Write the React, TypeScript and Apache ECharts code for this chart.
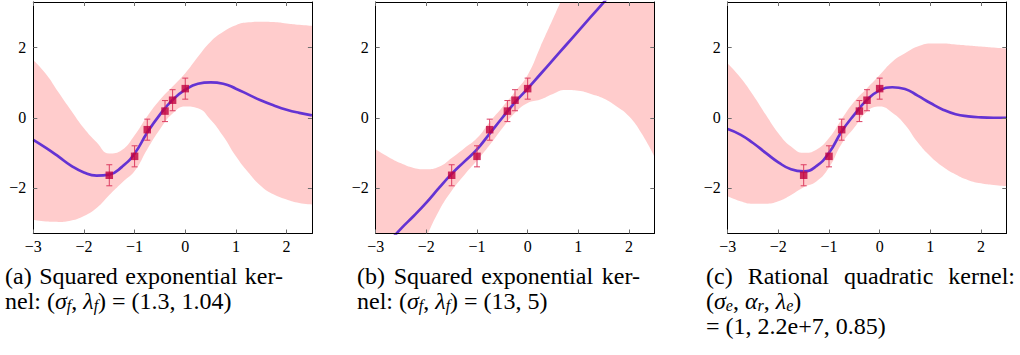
import React, { useEffect, useRef } from "react";
import * as echarts from "echarts";

// sampling grid of the curves (x)
const xGrid = [-3, -2.75, -2.5, -2.25, -2, -1.75, -1.5, -1.25, -1, -0.75, -0.5, -0.25, 0, 0.25, 0.5, 0.75, 1, 1.25, 1.5, 1.75, 2, 2.25, 2.5];

// (a) squared exponential kernel (1.3, 1.04)
const meanA = [-0.63, -0.86, -1.11, -1.37, -1.56, -1.65, -1.62, -1.4, -1.02, -0.42, 0.09, 0.51, 0.8, 0.97, 1.01, 0.97, 0.83, 0.66, 0.49, 0.35, 0.23, 0.14, 0.07];
const upperA = [1.65, 1.25, 0.72, 0.2, -0.3, -0.7, -1.02, -0.92, -0.5, 0.04, 0.51, 0.89, 1.27, 1.74, 2.17, 2.45, 2.64, 2.72, 2.74, 2.73, 2.69, 2.65, 2.62];
const lowerA = [-2.91, -2.96, -2.97, -2.93, -2.8, -2.57, -2.2, -1.85, -1.52, -0.9, -0.33, 0.12, 0.32, 0.27, -0.06, -0.53, -1.1, -1.57, -1.95, -2.19, -2.33, -2.43, -2.47];

// (b) squared exponential kernel (13, 5)
const meanB = [-3.96, -3.56, -3.16, -2.8, -2.42, -2.0, -1.6, -1.25, -0.9, -0.45, 0.0, 0.44, 0.83, 1.24, 1.65, 2.06, 2.47, 2.88, 3.29, 3.7, 4.1, 4.5, 4.9];
const upperB = [-0.9, -1.12, -1.3, -1.43, -1.47, -1.4, -1.15, -0.87, -0.58, -0.12, 0.3, 0.74, 1.22, 2.02, 2.82, 3.62, 4.4, 5.2, 6.1, 7.1, 8.2, 9.45, 10.9];
const lowerB = [-7.02, -6.0, -5.02, -4.21, -3.4, -2.65, -2.08, -1.63, -1.22, -0.78, -0.3, 0.14, 0.42, 0.52, 0.68, 0.79, 0.77, 0.68, 0.55, 0.33, 0.04, -0.45, -1.1];

// (c) rational quadratic kernel (1, 2.2e+7, 0.85)
const meanC = [-0.32, -0.48, -0.72, -1.0, -1.27, -1.47, -1.53, -1.38, -1.0, -0.39, 0.09, 0.51, 0.78, 0.87, 0.82, 0.63, 0.42, 0.23, 0.1, 0.04, 0.01, 0.0, 0.0];
const upperC = [1.55, 1.15, 0.65, 0.09, -0.44, -0.82, -1.0, -0.91, -0.58, -0.04, 0.46, 0.84, 1.22, 1.6, 1.84, 2.03, 2.12, 2.12, 2.09, 2.06, 2.03, 2.0, 1.97];
const lowerC = [-2.24, -2.38, -2.45, -2.45, -2.38, -2.2, -1.98, -1.82, -1.42, -0.74, -0.28, 0.18, 0.32, 0.14, -0.2, -0.7, -1.1, -1.4, -1.62, -1.78, -1.87, -1.92, -1.95];

// observations with error bars (same in all panels)
const obsX = [-1.5, -1, -0.75, -0.4, -0.25, 0];
const obsY = [-1.64, -1.1, -0.34, 0.19, 0.5, 0.83];
const obsErr = [0.3, 0.3, 0.3, 0.3, 0.3, 0.3];

const xTicks = [-3, -2, -1, 0, 1, 2];
const yTicks = [-2, 0, 2];

// captions (first lines are justified like the LaTeX minipages)
const capA1 = ["(a)", "Squared", "exponential", "ker-"];
const capA2 = "nel: ({i|\u03c3}{s|f}, {i|\u03bb}{s|f}) = (1.3, 1.04)";
const capB1 = ["(b)", "Squared", "exponential", "ker-"];
const capB2 = "nel: ({i|\u03c3}{s|f}, {i|\u03bb}{s|f}) = (13, 5)";
const capC1 = ["(c)", "Rational", "quadratic", "kernel:"];
const capC2 = "({i|\u03c3}{s|e}, {i|\u03b1}{s|r}, {i|\u03bb}{s|e})";
const capC3 = "= (1, 2.2e+7, 0.85)";

const panels = [
  { mean: meanA, upper: upperA, lower: lowerA },
  { mean: meanB, upper: upperB, lower: lowerB },
  { mean: meanC, upper: upperC, lower: lowerC },
];

const gridLefts = [33.3, 375.7, 727.7];
const GRID_W = 278.6;
const GRID_TOP = 2;
const GRID_H = 231.5;

const BAND = "#ffcccc";
const LINE = "#6433d3";
const MARK = "#c0003f";
const ERR = "#dc3d62";
const SERIF = "'Liberation Serif', 'DejaVu Serif', serif";
const CAP_FS = 24;
const CAP_LH = 23;

const fmt = (v: number) => String(v).replace("-", "\u2212");

function axisCommon(show: boolean, ticks: number[]) {
  return {
    axisLine: { show: true, onZero: false, lineStyle: { color: "#000", width: 1 } },
    axisTick: { show: true, inside: true, length: 4, customValues: ticks, lineStyle: { color: "#6e6e6e", width: 1 } },
    axisLabel: {
      show,
      customValues: ticks,
      formatter: fmt,
      color: "#000",
      fontFamily: SERIF,
      fontSize: 16,
    },
    splitLine: { show: false },
    z: 10,
  };
}

let measureCtx: CanvasRenderingContext2D | null = null;
function measure(text: string): number {
  if (!measureCtx) measureCtx = document.createElement("canvas").getContext("2d");
  if (!measureCtx) return text.length * CAP_FS * 0.45;
  measureCtx.font = `${CAP_FS}px ${SERIF}`;
  return measureCtx.measureText(text).width;
}

function buildOption() {
  const grid: any[] = [];
  const xAxis: any[] = [];
  const yAxis: any[] = [];
  const series: any[] = [];
  panels.forEach((p, i) => {
    grid.push({ left: gridLefts[i], top: GRID_TOP, width: GRID_W, height: GRID_H });
    const bx = axisCommon(true, xTicks);
    xAxis.push({ type: "value", gridIndex: i, min: -3, max: 2.5, position: "bottom", ...bx, axisLabel: { ...bx.axisLabel, margin: 5 } });
    const tx = axisCommon(false, xTicks);
    xAxis.push({ type: "value", gridIndex: i, min: -3, max: 2.5, position: "top", ...tx });
    const ly = axisCommon(true, yTicks);
    yAxis.push({ type: "value", gridIndex: i, min: -3.3, max: 3.3, position: "left", ...ly, axisLabel: { ...ly.axisLabel, margin: 7 } });
    const ry = axisCommon(false, yTicks);
    yAxis.push({ type: "value", gridIndex: i, min: -3.3, max: 3.3, position: "right", ...ry });

    const xi = 2 * i;
    const yi = 2 * i;
    // upper edge of the band, filled down to the bottom of the plot
    series.push({
      type: "line",
      xAxisIndex: xi,
      yAxisIndex: yi,
      data: xGrid.map((x, k) => [x, p.upper[k]]),
      smooth: 0.5,
      symbol: "none",
      lineStyle: { width: 0, opacity: 0 },
      areaStyle: { color: BAND, opacity: 1, origin: "start" },
      silent: true,
      z: 1,
    });
    // lower edge of the band: white below it
    series.push({
      type: "line",
      xAxisIndex: xi,
      yAxisIndex: yi,
      data: xGrid.map((x, k) => [x, p.lower[k]]),
      smooth: 0.5,
      symbol: "none",
      lineStyle: { width: 0, opacity: 0 },
      areaStyle: { color: "#ffffff", opacity: 1, origin: "start" },
      silent: true,
      z: 2,
    });
    series.push({
      type: "line",
      xAxisIndex: xi,
      yAxisIndex: yi,
      data: xGrid.map((x, k) => [x, p.mean[k]]),
      smooth: 0.5,
      symbol: "none",
      lineStyle: { color: LINE, width: 2.7 },
      z: 3,
    });
    series.push({
      type: "custom",
      xAxisIndex: xi,
      yAxisIndex: yi,
      data: obsX.map((x, k) => [x, obsY[k], obsErr[k]]),
      renderItem: (params: any, api: any) => {
        const x = api.value(0);
        const y = api.value(1);
        const e = api.value(2);
        const t = api.coord([x, y + e]);
        const b = api.coord([x, y - e]);
        const c = 3;
        const st = { stroke: ERR, lineWidth: 1 };
        return {
          type: "group",
          children: [
            { type: "line", shape: { x1: t[0], y1: t[1], x2: b[0], y2: b[1] }, style: st },
            { type: "line", shape: { x1: t[0] - c, y1: t[1], x2: t[0] + c, y2: t[1] }, style: st },
            { type: "line", shape: { x1: b[0] - c, y1: b[1], x2: b[0] + c, y2: b[1] }, style: st },
          ],
        };
      },
      z: 4,
    });
    series.push({
      type: "scatter",
      xAxisIndex: xi,
      yAxisIndex: yi,
      data: obsX.map((x, k) => [x, obsY[k]]),
      symbol: "rect",
      symbolSize: 7.5,
      itemStyle: { color: MARK },
      z: 5,
    });
  });

  const rich = {
    i: { fontStyle: "italic", fontSize: CAP_FS, fontFamily: SERIF, lineHeight: CAP_LH, fill: "#000" },
    s: { fontStyle: "italic", fontSize: 16, fontFamily: SERIF, verticalAlign: "bottom", lineHeight: 25, fill: "#000" },
  };
  const t = (x: number, y: number, text: string, withRich = false) => ({
    type: "text",
    x,
    y,
    style: withRich
      ? { text, fontSize: CAP_FS, fontFamily: SERIF, lineHeight: CAP_LH, fill: "#000", verticalAlign: "middle", rich }
      : { text, fontSize: CAP_FS, fontFamily: SERIF, lineHeight: CAP_LH, fill: "#000", verticalAlign: "middle" },
  });
  const justify = (words: string[], x0: number, x1: number, y: number) => {
    const ws = words.map(measure);
    const sum = ws.reduce((a, b) => a + b, 0);
    const gap = (x1 - x0 - sum) / (words.length - 1);
    let x = x0;
    return words.map((w, k) => {
      const el = t(x, y, w);
      x += ws[k] + gap;
      return el;
    });
  };

  const graphic = [
    ...justify(capA1, 5, 283, 276),
    t(5, 301, capA2, true),
    ...justify(capB1, 357, 640, 276),
    t(357, 301, capB2, true),
    ...justify(capC1, 706, 1015, 276),
    t(706, 301, capC2, true),
    t(706, 326, capC3),
  ];

  return { animation: false, grid, xAxis, yAxis, series, graphic };
}

export default function App() {
  const ref = useRef<HTMLDivElement>(null);
  useEffect(() => {
    if (!ref.current) return;
    const chart = echarts.init(ref.current, undefined, { renderer: "svg" });
    chart.setOption(buildOption() as any);
    return () => chart.dispose();
  }, []);
  return <div ref={ref} style={{ position: "absolute", left: 0, top: 0, width: 1020, height: 355, background: "#fff" }} />;
}
